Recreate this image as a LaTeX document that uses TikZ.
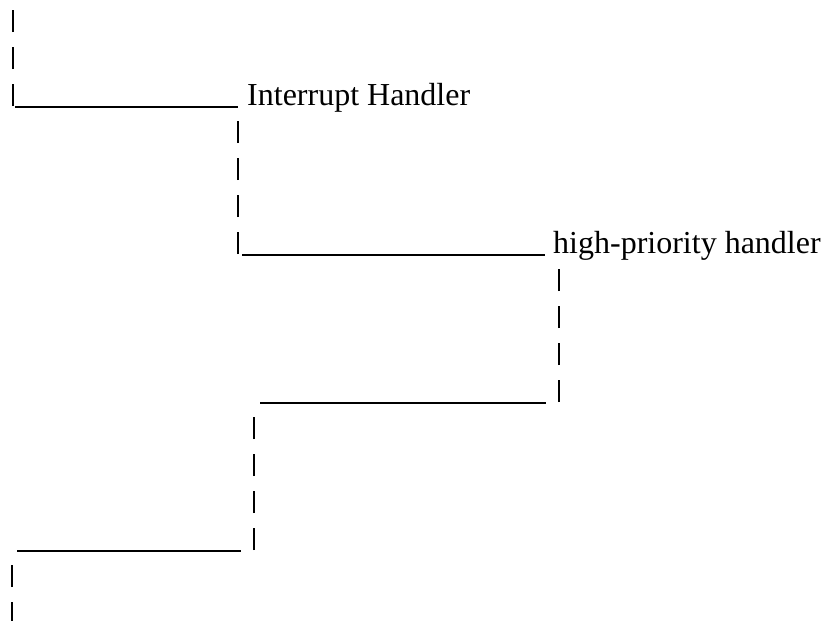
\documentclass[tikz,border=0pt]{standalone}
\usepackage{fontspec}
\setmainfont{Liberation Serif}
\newcommand{\bars}[3]{
  % one short bar per text row, rows #2 to #3, in column #1
  \foreach \r in {#2,...,#3}
    \draw[bar] (#1, 37*\r - 5) -- (#1, 37*\r - 27);
}

\begin{document}
\begin{tikzpicture}[x=1pt, y=-1pt,
  bar/.style={line width=2.6pt},
  rule/.style={line width=1.8pt},
  label/.style={font=\fontsize{32}{38}\selectfont, inner sep=0pt, anchor=base west}]
\useasboundingbox (0, 0) rectangle (825, 621);

% main program
\bars{13}{1}{3}
\coordinate (irqin) at (15, 107);
\node[label] (irq) at (247, 105) {Interrupt Handler};
\draw[rule] (irqin) -- ([xshift=-9pt, yshift=-2pt]irq.base west);

% interrupt handler
\bars{238}{4}{7}
\coordinate (hpin) at (242, 255);
\node[label] (hp) at (553, 253) {high-priority handler};
\draw[rule] (hpin) -- ([xshift=-8pt, yshift=-2pt]hp.base west);

% back from high-priority handler
\bars{559}{8}{11}
\coordinate (hpout) at (546, 403);
\coordinate (irqback) at (260, 403);
\draw[rule] (irqback) -- (hpout);

% back to main program
\bars{254}{12}{15}
\coordinate (irqout) at (241, 551);
\coordinate (mainback) at (17, 551);
\draw[rule] (mainback) -- (irqout);
\bars{12}{16}{17}
\end{tikzpicture}
\end{document}
